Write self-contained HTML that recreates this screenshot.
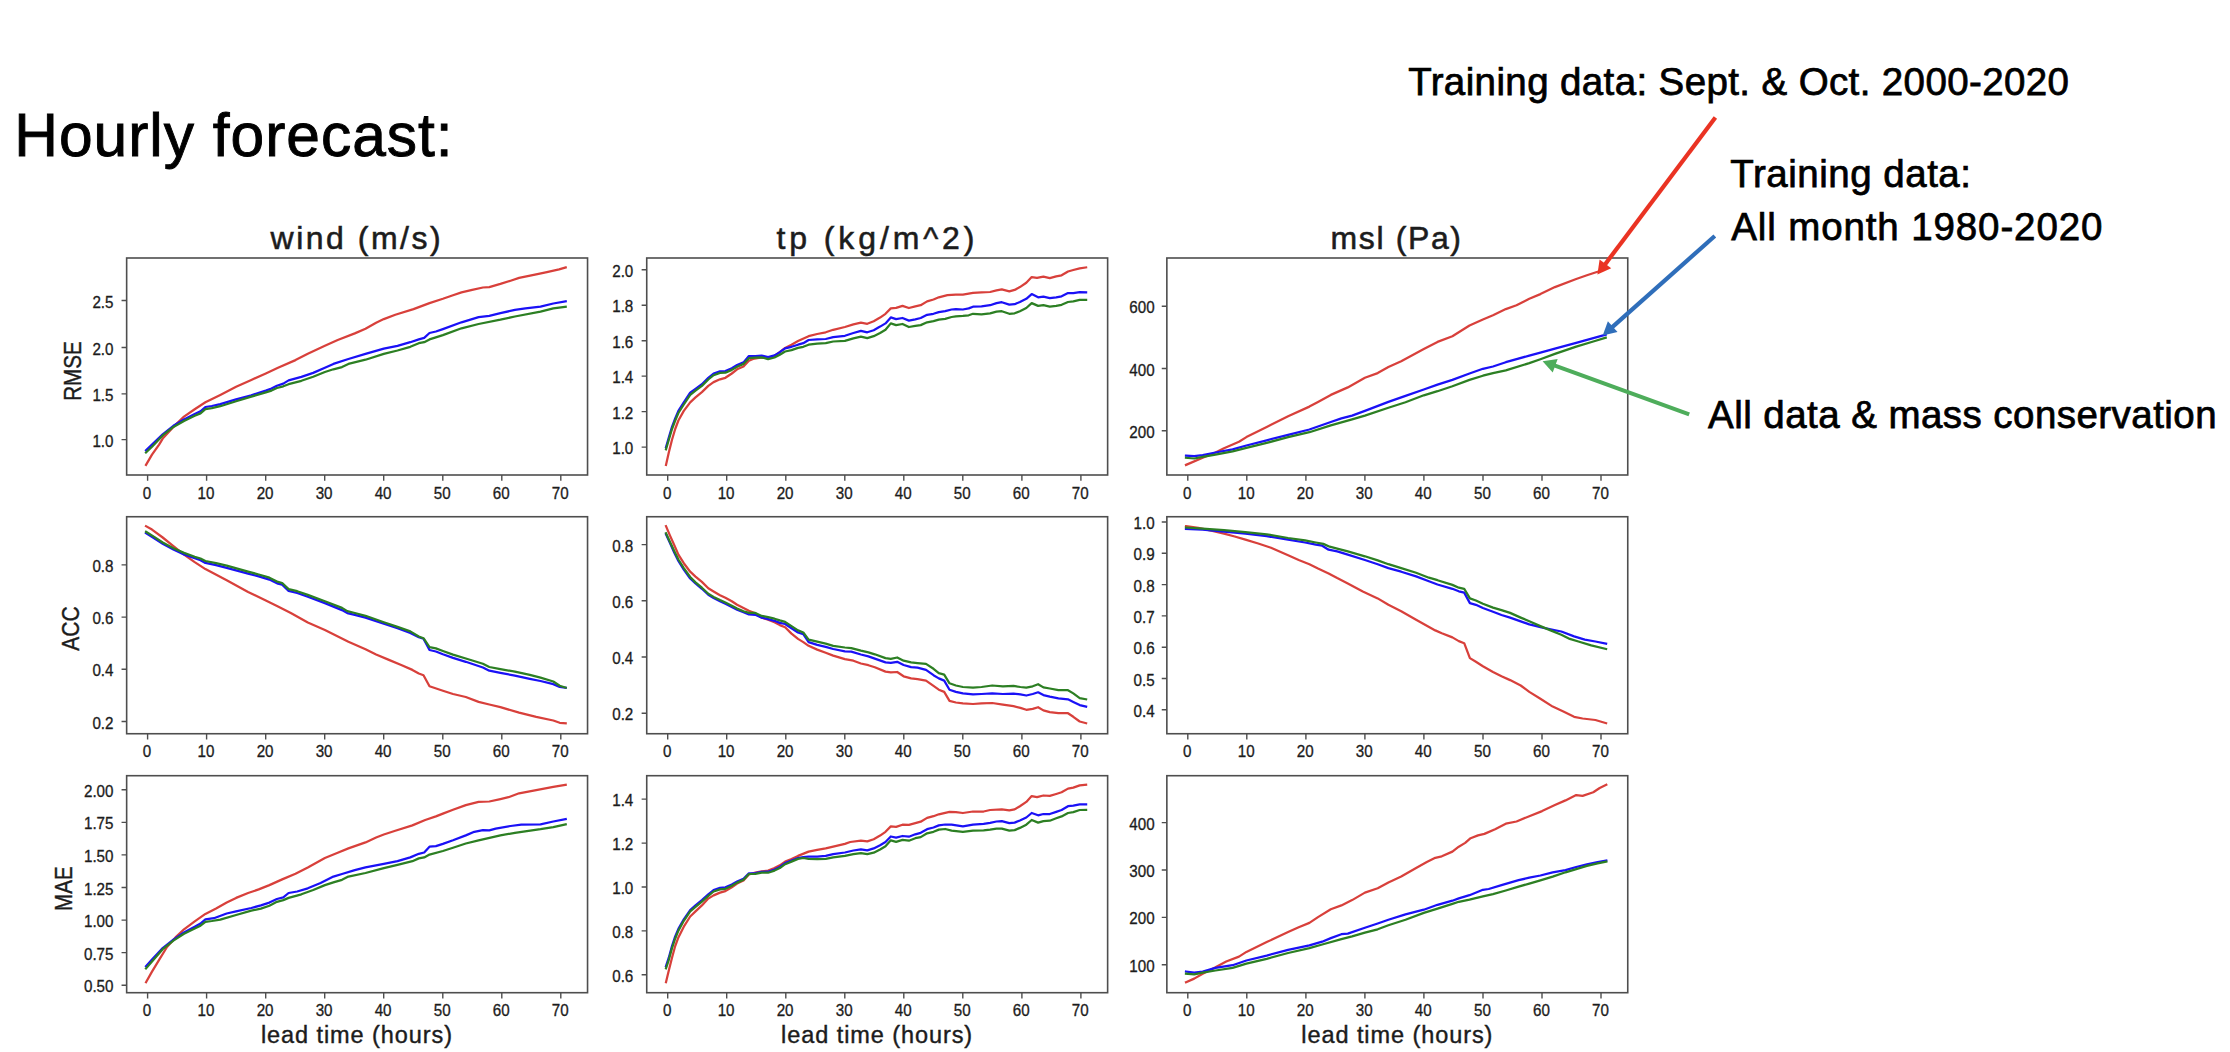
<!DOCTYPE html>
<html><head><meta charset="utf-8"><title>Hourly forecast</title>
<style>html,body{margin:0;padding:0;background:#fff;}body{width:2230px;height:1052px;overflow:hidden;font-family:"Liberation Sans",sans-serif;}svg{display:block;}</style>
</head><body>
<svg width="2230" height="1052" viewBox="0 0 2230 1052" font-family='"Liberation Sans", sans-serif'>
<rect x="0" y="0" width="2230" height="1052" fill="#ffffff"/>
<g>
<g fill="none" stroke-width="2.25" stroke-linejoin="round" stroke-linecap="square">
<polyline points="146.0,464.9 152.0,454.6 159.1,444.6 162.7,438.6 173.4,426.9 184.0,416.6 194.7,409.2 205.4,402.3 220.3,394.9 236.1,386.8 251.3,379.9 265.8,373.5 278.0,367.8 295.5,360.1 307.8,353.7 324.9,345.8 337.7,340.0 354.8,333.4 365.5,328.7 376.1,322.7 383.8,319.1 395.3,314.8 413.5,309.1 429.5,303.1 442.9,298.8 453.0,295.2 461.5,292.4 472.2,289.9 482.9,287.5 489.3,287.1 500.4,283.9 510.6,280.7 519.1,277.9 536.2,274.3 546.9,272.1 559.1,269.4 565.7,267.4" stroke="#d8403b"/>
<polyline points="146.0,450.4 152.0,444.6 162.7,434.4 173.4,425.8 184.0,419.4 194.7,414.1 200.5,411.3 205.4,407.0 211.8,406.0 220.3,404.1 236.1,399.4 251.3,395.3 265.8,390.6 271.5,388.5 276.9,385.7 283.3,383.6 288.6,380.4 301.4,376.9 313.2,372.9 324.9,367.8 333.4,363.9 348.4,359.0 365.5,353.9 383.8,348.6 397.5,345.8 410.3,342.2 418.8,339.4 424.2,337.9 429.5,333.0 435.9,331.5 442.9,329.1 461.5,322.3 478.6,317.2 489.3,315.9 500.4,313.1 514.9,309.9 525.5,308.4 540.5,306.7 553.3,303.5 565.7,301.4" stroke="#1a11f6"/>
<polyline points="146.0,452.5 152.0,446.7 162.7,435.4 173.4,426.9 184.0,420.9 194.7,415.8 200.5,413.4 205.4,409.2 211.8,408.1 220.3,406.2 236.1,401.3 251.3,396.6 265.8,392.3 271.5,390.6 276.9,388.0 283.3,386.3 288.6,384.2 301.4,380.8 313.2,376.7 324.9,372.0 333.4,369.3 342.0,367.1 348.4,363.9 365.5,359.7 383.8,353.9 397.5,350.5 410.3,346.8 418.8,343.2 424.2,342.2 429.5,339.4 442.9,335.1 461.5,328.3 478.6,324.0 500.4,319.7 514.9,316.5 540.5,311.6 553.3,308.4 565.7,306.7" stroke="#2c7f23"/>
</g>
<rect x="126.65" y="258.0" width="460.9" height="217.0" fill="none" stroke="#4e4e4e" stroke-width="1.6"/>
<path d="M147.6 474.96v5.9M206.6 474.96v5.9M265.7 474.96v5.9M324.7 474.96v5.9M383.7 474.96v5.9M442.8 474.96v5.9M501.8 474.96v5.9M560.8 474.96v5.9M126.65 300.5h-5.1M126.65 347.5h-5.1M126.65 393.9h-5.1M126.65 439.6h-5.1" stroke="#4e4e4e" stroke-width="1.4" fill="none"/>
<g font-size="15.5" fill="#1c1c1c" stroke="#1c1c1c" stroke-width="0.3" text-anchor="middle">
<text transform="translate(147.0 498.7) scale(0.98 1.1)">0</text>
<text transform="translate(206.0 498.7) scale(0.98 1.1)">10</text>
<text transform="translate(265.1 498.7) scale(0.98 1.1)">20</text>
<text transform="translate(324.1 498.7) scale(0.98 1.1)">30</text>
<text transform="translate(383.1 498.7) scale(0.98 1.1)">40</text>
<text transform="translate(442.2 498.7) scale(0.98 1.1)">50</text>
<text transform="translate(501.2 498.7) scale(0.98 1.1)">60</text>
<text transform="translate(560.2 498.7) scale(0.98 1.1)">70</text>
</g>
<g font-size="15.5" fill="#1c1c1c" stroke="#1c1c1c" stroke-width="0.3" text-anchor="end">
<text transform="translate(113.5 307.5) scale(0.98 1.1)">2.5</text>
<text transform="translate(113.5 354.5) scale(0.98 1.1)">2.0</text>
<text transform="translate(113.5 400.9) scale(0.98 1.1)">1.5</text>
<text transform="translate(113.5 446.6) scale(0.98 1.1)">1.0</text>
</g>
<g fill="none" stroke-width="2.25" stroke-linejoin="round" stroke-linecap="square">
<polyline points="666.0,464.9 668.8,452.5 672.0,439.7 675.2,429.0 678.4,420.5 683.8,410.9 690.2,402.3 695.5,397.4 701.9,392.1 708.3,385.9 713.6,382.1 720.0,379.3 725.4,377.8 731.8,373.5 737.1,369.3 743.5,366.5 748.9,360.7 753.1,359.0 761.7,357.5 768.1,358.2 774.5,356.0 779.8,352.2 785.1,347.9 791.5,344.7 798.0,341.1 808.6,336.2 817.2,334.0 825.7,332.3 833.2,329.8 844.9,327.0 853.4,324.4 860.9,322.7 867.3,323.8 873.7,321.2 880.1,317.6 885.5,313.8 890.8,308.4 896.1,307.8 902.5,305.9 908.9,308.0 915.3,306.3 920.7,305.2 927.1,301.4 933.5,299.5 938.8,297.3 947.4,295.2 955.9,294.6 962.9,294.6 973.0,292.8 981.5,292.4 990.1,292.0 996.5,290.3 1001.8,289.4 1009.3,291.4 1014.6,289.9 1019.9,287.1 1026.3,282.8 1031.7,277.1 1037.0,277.9 1043.4,276.6 1049.8,278.1 1056.2,276.4 1061.6,275.3 1068.0,271.5 1073.3,270.0 1079.7,268.3 1086.1,267.4" stroke="#d8403b"/>
<polyline points="666.0,447.2 668.8,437.6 672.0,426.9 675.2,418.4 678.4,410.9 683.8,402.3 690.2,392.7 695.5,388.9 701.9,384.2 708.3,377.8 713.6,373.5 720.0,371.4 725.4,371.0 731.8,368.2 737.1,365.0 743.5,362.4 748.9,356.0 755.3,356.0 761.7,355.6 768.1,357.1 774.5,355.4 779.8,352.2 785.1,348.3 791.5,346.8 798.0,344.7 803.3,343.2 808.6,340.0 817.2,339.4 825.7,339.0 833.2,337.2 844.9,335.8 853.4,333.0 860.9,330.8 867.3,332.3 873.7,330.2 880.1,326.6 885.5,323.4 890.8,317.4 896.1,319.1 902.5,318.0 908.9,320.6 915.3,319.3 920.7,318.0 927.1,314.8 933.5,313.8 938.8,312.1 945.2,311.2 951.6,309.5 955.9,309.1 962.9,309.5 968.7,308.4 973.0,306.7 981.5,306.3 990.1,305.2 996.5,303.1 1001.8,302.2 1009.3,304.6 1014.6,304.2 1019.9,302.0 1026.3,298.8 1031.7,294.1 1038.1,297.3 1043.4,296.7 1049.8,298.2 1056.2,297.3 1061.6,296.3 1068.0,293.1 1073.3,293.1 1079.7,292.2 1086.1,292.4" stroke="#1a11f6"/>
<polyline points="666.0,449.3 668.8,439.7 672.0,429.0 675.2,420.5 678.4,413.0 683.8,404.5 690.2,394.9 695.5,390.6 701.9,385.9 708.3,379.5 713.6,375.2 720.0,372.9 725.4,372.7 731.8,369.9 737.1,366.7 743.5,363.9 748.9,358.2 755.3,357.7 761.7,357.3 768.1,359.2 774.5,357.5 779.8,354.7 785.1,351.5 791.5,350.1 798.0,347.9 803.3,346.8 808.6,344.7 817.2,343.6 825.7,343.2 833.2,341.5 844.9,340.9 853.4,338.3 860.9,336.6 867.3,338.1 873.7,336.2 880.1,333.0 885.5,329.8 890.8,323.4 896.1,325.1 902.5,324.0 908.9,327.0 915.3,325.9 920.7,325.1 927.1,322.3 933.5,321.2 938.8,319.7 945.2,318.9 951.6,317.0 955.9,316.3 962.9,315.9 968.7,315.3 973.0,313.8 981.5,314.4 990.1,313.3 996.5,311.6 1001.8,311.2 1009.3,313.8 1014.6,313.3 1019.9,311.2 1026.3,308.0 1031.7,303.1 1038.1,305.9 1043.4,305.2 1049.8,306.7 1056.2,305.9 1061.6,304.8 1068.0,302.0 1073.3,301.4 1079.7,299.9 1086.1,299.9" stroke="#2c7f23"/>
</g>
<rect x="646.73" y="258.0" width="460.9" height="217.0" fill="none" stroke="#4e4e4e" stroke-width="1.6"/>
<path d="M667.7 474.96v5.9M726.7 474.96v5.9M785.8 474.96v5.9M844.8 474.96v5.9M903.8 474.96v5.9M962.8 474.96v5.9M1021.9 474.96v5.9M1080.9 474.96v5.9M646.73 269.7h-5.1M646.73 305.2h-5.1M646.73 340.7h-5.1M646.73 376.1h-5.1M646.73 411.6h-5.1M646.73 447.1h-5.1" stroke="#4e4e4e" stroke-width="1.4" fill="none"/>
<g font-size="15.5" fill="#1c1c1c" stroke="#1c1c1c" stroke-width="0.3" text-anchor="middle">
<text transform="translate(667.1 498.7) scale(0.98 1.1)">0</text>
<text transform="translate(726.1 498.7) scale(0.98 1.1)">10</text>
<text transform="translate(785.1 498.7) scale(0.98 1.1)">20</text>
<text transform="translate(844.2 498.7) scale(0.98 1.1)">30</text>
<text transform="translate(903.2 498.7) scale(0.98 1.1)">40</text>
<text transform="translate(962.2 498.7) scale(0.98 1.1)">50</text>
<text transform="translate(1021.3 498.7) scale(0.98 1.1)">60</text>
<text transform="translate(1080.3 498.7) scale(0.98 1.1)">70</text>
</g>
<g font-size="15.5" fill="#1c1c1c" stroke="#1c1c1c" stroke-width="0.3" text-anchor="end">
<text transform="translate(633.3 276.7) scale(0.98 1.1)">2.0</text>
<text transform="translate(633.3 312.2) scale(0.98 1.1)">1.8</text>
<text transform="translate(633.3 347.7) scale(0.98 1.1)">1.6</text>
<text transform="translate(633.3 383.1) scale(0.98 1.1)">1.4</text>
<text transform="translate(633.3 418.6) scale(0.98 1.1)">1.2</text>
<text transform="translate(633.3 454.1) scale(0.98 1.1)">1.0</text>
</g>
<g fill="none" stroke-width="2.25" stroke-linejoin="round" stroke-linecap="square">
<polyline points="1186.0,464.9 1202.7,457.8 1215.5,452.5 1224.0,448.2 1239.0,441.8 1246.4,437.1 1266.7,426.9 1288.1,416.2 1309.4,406.6 1318.0,401.9 1330.8,394.9 1347.8,387.4 1364.9,377.8 1377.7,373.1 1388.4,367.1 1401.2,361.2 1423.8,349.0 1437.5,341.9 1452.4,336.2 1469.5,325.5 1482.9,319.5 1493.0,315.3 1505.8,309.1 1516.5,305.2 1529.3,298.8 1540.4,294.1 1554.9,287.1 1576.2,279.0 1586.9,275.3 1597.6,271.7 1606.3,268.1" stroke="#d8403b"/>
<polyline points="1186.0,455.7 1194.2,456.1 1202.7,455.1 1215.5,452.5 1232.6,449.3 1246.4,445.5 1266.7,440.3 1288.1,434.8 1309.4,429.5 1330.8,422.0 1341.4,418.4 1352.1,415.6 1364.9,410.9 1388.4,401.9 1405.5,395.9 1423.8,389.5 1437.5,384.6 1452.4,379.9 1469.5,373.5 1482.9,368.8 1493.0,366.5 1505.8,362.2 1529.3,355.6 1540.4,352.6 1554.9,348.6 1576.2,342.8 1593.3,338.1 1605.7,334.7" stroke="#1a11f6"/>
<polyline points="1186.0,457.8 1194.2,458.5 1202.7,456.8 1215.5,454.6 1232.6,451.4 1246.4,447.8 1266.7,442.9 1288.1,437.1 1309.4,432.2 1330.8,425.4 1352.1,419.4 1364.9,415.6 1388.4,407.7 1405.5,402.3 1423.8,395.3 1437.5,391.2 1452.4,386.3 1469.5,379.9 1482.9,375.7 1493.0,373.1 1505.8,370.3 1529.3,363.1 1540.4,359.2 1554.9,353.9 1576.2,346.6 1593.3,341.5 1605.7,337.7" stroke="#2c7f23"/>
</g>
<rect x="1166.85" y="258.0" width="460.9" height="217.0" fill="none" stroke="#4e4e4e" stroke-width="1.6"/>
<path d="M1187.8 474.96v5.9M1246.8 474.96v5.9M1305.9 474.96v5.9M1364.9 474.96v5.9M1423.9 474.96v5.9M1483.0 474.96v5.9M1542.0 474.96v5.9M1601.0 474.96v5.9M1166.85 306.3h-5.1M1166.85 368.5h-5.1M1166.85 430.7h-5.1" stroke="#4e4e4e" stroke-width="1.4" fill="none"/>
<g font-size="15.5" fill="#1c1c1c" stroke="#1c1c1c" stroke-width="0.3" text-anchor="middle">
<text transform="translate(1187.2 498.7) scale(0.98 1.1)">0</text>
<text transform="translate(1246.2 498.7) scale(0.98 1.1)">10</text>
<text transform="translate(1305.3 498.7) scale(0.98 1.1)">20</text>
<text transform="translate(1364.3 498.7) scale(0.98 1.1)">30</text>
<text transform="translate(1423.3 498.7) scale(0.98 1.1)">40</text>
<text transform="translate(1482.4 498.7) scale(0.98 1.1)">50</text>
<text transform="translate(1541.4 498.7) scale(0.98 1.1)">60</text>
<text transform="translate(1600.4 498.7) scale(0.98 1.1)">70</text>
</g>
<g font-size="15.5" fill="#1c1c1c" stroke="#1c1c1c" stroke-width="0.3" text-anchor="end">
<text transform="translate(1154.6 313.3) scale(0.98 1.1)">600</text>
<text transform="translate(1154.6 375.5) scale(0.98 1.1)">400</text>
<text transform="translate(1154.6 437.7) scale(0.98 1.1)">200</text>
</g>
<g fill="none" stroke-width="2.25" stroke-linejoin="round" stroke-linecap="square">
<polyline points="146.0,526.2 152.0,529.6 162.7,537.5 173.4,546.1 184.0,554.6 194.7,562.1 205.4,569.1 226.7,580.2 248.1,592.0 265.8,600.5 278.0,606.5 290.8,612.9 307.8,622.5 324.9,630.0 348.4,641.7 365.5,649.2 376.1,654.5 388.9,659.9 401.8,665.2 412.4,669.9 418.8,673.5 423.5,675.2 429.5,686.3 442.9,690.8 453.0,694.0 465.8,697.0 478.6,701.9 489.3,704.5 500.4,707.2 519.1,712.6 536.2,716.8 553.3,720.5 559.7,722.8 565.7,723.2" stroke="#d8403b"/>
<polyline points="146.0,533.1 154.2,538.4 162.7,543.7 173.4,549.5 184.0,554.4 194.7,558.3 200.5,560.2 205.4,562.9 216.1,565.1 226.7,567.9 248.1,573.6 258.7,576.4 269.4,579.6 278.0,583.7 282.2,584.7 288.6,590.9 297.2,593.0 307.8,596.7 324.9,603.1 342.0,610.1 347.3,613.1 354.8,614.8 365.5,617.6 383.8,623.8 397.5,628.3 410.3,633.0 418.8,637.2 423.5,638.7 429.5,650.0 435.9,651.5 442.9,654.3 453.0,657.9 465.8,661.8 482.9,667.5 489.3,670.7 500.4,672.9 514.9,675.6 529.8,678.8 540.5,681.0 553.3,684.2 559.7,687.0 565.7,687.8" stroke="#1a11f6"/>
<polyline points="146.0,531.8 154.2,536.9 162.7,542.5 173.4,548.2 184.0,552.9 194.7,556.8 200.5,558.5 205.4,561.0 216.1,563.2 226.7,565.7 248.1,571.7 258.7,574.5 269.4,577.7 278.0,581.9 282.2,583.0 288.6,589.1 297.2,591.2 307.8,594.9 324.9,601.3 342.0,607.9 347.3,611.1 354.8,613.0 365.5,615.8 383.8,622.2 397.5,626.9 410.3,631.4 418.8,636.5 423.5,638.2 429.5,647.2 435.9,648.4 442.9,651.0 453.0,654.6 465.8,658.5 482.9,663.8 489.3,667.0 500.4,669.1 514.9,671.7 529.8,674.9 540.5,677.7 553.3,681.5 559.7,685.8 565.7,687.7" stroke="#2c7f23"/>
</g>
<rect x="126.65" y="516.73" width="460.9" height="217.0" fill="none" stroke="#4e4e4e" stroke-width="1.6"/>
<path d="M147.6 733.72v5.9M206.6 733.72v5.9M265.7 733.72v5.9M324.7 733.72v5.9M383.7 733.72v5.9M442.8 733.72v5.9M501.8 733.72v5.9M560.8 733.72v5.9M126.65 564.9h-5.1M126.65 617.1h-5.1M126.65 669.3h-5.1M126.65 721.5h-5.1" stroke="#4e4e4e" stroke-width="1.4" fill="none"/>
<g font-size="15.5" fill="#1c1c1c" stroke="#1c1c1c" stroke-width="0.3" text-anchor="middle">
<text transform="translate(147.0 757.4) scale(0.98 1.1)">0</text>
<text transform="translate(206.0 757.4) scale(0.98 1.1)">10</text>
<text transform="translate(265.1 757.4) scale(0.98 1.1)">20</text>
<text transform="translate(324.1 757.4) scale(0.98 1.1)">30</text>
<text transform="translate(383.1 757.4) scale(0.98 1.1)">40</text>
<text transform="translate(442.2 757.4) scale(0.98 1.1)">50</text>
<text transform="translate(501.2 757.4) scale(0.98 1.1)">60</text>
<text transform="translate(560.2 757.4) scale(0.98 1.1)">70</text>
</g>
<g font-size="15.5" fill="#1c1c1c" stroke="#1c1c1c" stroke-width="0.3" text-anchor="end">
<text transform="translate(113.5 571.9) scale(0.98 1.1)">0.8</text>
<text transform="translate(113.5 624.1) scale(0.98 1.1)">0.6</text>
<text transform="translate(113.5 676.3) scale(0.98 1.1)">0.4</text>
<text transform="translate(113.5 728.5) scale(0.98 1.1)">0.2</text>
</g>
<g fill="none" stroke-width="2.25" stroke-linejoin="round" stroke-linecap="square">
<polyline points="666.0,526.2 669.9,535.4 674.2,545.0 678.4,554.6 683.8,563.2 690.2,571.7 695.5,576.6 701.9,581.9 708.3,588.3 713.6,591.5 720.0,595.2 725.4,597.7 731.8,601.2 737.1,604.8 743.5,608.0 748.9,610.8 755.3,613.3 761.7,617.6 768.1,619.7 774.5,622.3 779.8,625.1 785.1,627.2 791.5,633.6 798.0,638.9 803.3,642.1 808.6,645.8 817.2,649.6 825.7,652.8 833.2,655.6 844.9,659.2 853.4,660.7 860.9,663.5 868.4,665.2 874.8,667.3 885.5,671.6 890.8,672.4 897.2,672.0 903.6,676.3 911.1,678.4 917.5,679.1 926.0,680.6 933.5,685.9 938.8,689.7 944.2,691.9 949.5,700.8 955.9,702.5 962.9,703.4 973.0,704.0 981.5,703.4 992.2,703.0 1002.9,704.7 1013.5,706.2 1020.4,707.9 1026.3,709.8 1032.7,708.9 1038.1,707.2 1043.4,710.4 1049.8,712.1 1058.4,713.2 1068.0,713.2 1073.3,716.8 1079.7,721.5 1086.1,723.2" stroke="#d8403b"/>
<polyline points="666.0,534.3 669.9,542.9 674.2,552.5 678.4,561.0 683.8,569.6 690.2,578.5 695.5,583.4 701.9,588.8 708.3,594.8 713.6,598.0 720.0,601.2 725.4,603.7 731.8,606.9 737.1,609.7 743.5,612.3 748.9,614.4 755.3,614.8 761.7,617.6 768.1,619.1 774.5,620.8 779.8,622.9 785.1,624.0 791.5,628.3 798.0,632.5 803.3,634.2 808.6,642.1 817.2,644.9 825.7,646.8 833.2,649.0 844.9,651.3 851.3,651.7 860.9,654.5 868.4,656.4 874.8,658.6 885.5,662.4 890.8,662.8 897.2,661.8 903.6,665.0 911.1,667.1 917.5,667.7 926.0,669.9 933.5,675.2 938.8,678.4 944.2,680.6 949.5,689.7 955.9,691.9 962.9,693.4 973.0,694.4 981.5,694.0 992.2,693.4 1002.9,694.0 1013.5,693.6 1020.4,694.4 1026.3,695.5 1032.7,694.0 1038.1,692.3 1043.4,695.1 1049.8,696.6 1058.4,698.3 1068.0,699.3 1073.3,701.9 1079.7,705.1 1086.1,706.6" stroke="#1a11f6"/>
<polyline points="666.0,533.3 669.9,541.8 674.2,551.0 678.4,559.5 683.8,568.1 690.2,577.0 695.5,582.4 701.9,587.7 708.3,593.7 713.6,596.9 720.0,600.1 725.4,602.6 731.8,605.8 737.1,608.6 743.5,611.2 748.9,612.9 755.3,612.9 761.7,615.9 768.1,617.2 774.5,618.7 779.8,620.4 785.1,621.9 791.5,626.1 798.0,630.4 803.3,632.5 808.6,639.6 817.2,641.7 825.7,643.6 833.2,645.8 844.9,647.5 851.3,648.1 860.9,650.7 868.4,652.4 874.8,654.3 885.5,658.1 890.8,658.8 897.2,657.5 903.6,660.7 911.1,662.4 917.5,663.1 926.0,663.9 933.5,668.8 938.8,673.1 944.2,674.6 949.5,683.3 955.9,685.5 962.9,687.0 973.0,687.6 981.5,687.0 992.2,685.5 1002.9,686.3 1013.5,685.9 1020.4,687.0 1026.3,687.6 1032.7,686.3 1038.1,684.2 1043.4,687.4 1049.8,688.5 1058.4,690.2 1068.0,690.2 1073.3,693.4 1079.7,698.1 1086.1,699.3" stroke="#2c7f23"/>
</g>
<rect x="646.73" y="516.73" width="460.9" height="217.0" fill="none" stroke="#4e4e4e" stroke-width="1.6"/>
<path d="M667.7 733.72v5.9M726.7 733.72v5.9M785.8 733.72v5.9M844.8 733.72v5.9M903.8 733.72v5.9M962.8 733.72v5.9M1021.9 733.72v5.9M1080.9 733.72v5.9M646.73 544.6h-5.1M646.73 600.8h-5.1M646.73 657.0h-5.1M646.73 713.2h-5.1" stroke="#4e4e4e" stroke-width="1.4" fill="none"/>
<g font-size="15.5" fill="#1c1c1c" stroke="#1c1c1c" stroke-width="0.3" text-anchor="middle">
<text transform="translate(667.1 757.4) scale(0.98 1.1)">0</text>
<text transform="translate(726.1 757.4) scale(0.98 1.1)">10</text>
<text transform="translate(785.1 757.4) scale(0.98 1.1)">20</text>
<text transform="translate(844.2 757.4) scale(0.98 1.1)">30</text>
<text transform="translate(903.2 757.4) scale(0.98 1.1)">40</text>
<text transform="translate(962.2 757.4) scale(0.98 1.1)">50</text>
<text transform="translate(1021.3 757.4) scale(0.98 1.1)">60</text>
<text transform="translate(1080.3 757.4) scale(0.98 1.1)">70</text>
</g>
<g font-size="15.5" fill="#1c1c1c" stroke="#1c1c1c" stroke-width="0.3" text-anchor="end">
<text transform="translate(633.3 551.6) scale(0.98 1.1)">0.8</text>
<text transform="translate(633.3 607.8) scale(0.98 1.1)">0.6</text>
<text transform="translate(633.3 664.0) scale(0.98 1.1)">0.4</text>
<text transform="translate(633.3 720.2) scale(0.98 1.1)">0.2</text>
</g>
<g fill="none" stroke-width="2.25" stroke-linejoin="round" stroke-linecap="square">
<polyline points="1186.0,526.2 1198.4,527.9 1213.4,531.1 1224.0,533.7 1234.7,536.5 1245.4,539.7 1258.2,543.5 1271.0,547.8 1288.1,555.3 1298.7,560.0 1309.4,564.2 1318.0,568.5 1328.6,573.4 1337.2,578.1 1347.8,583.4 1362.8,591.5 1377.7,598.4 1388.4,604.8 1401.2,611.2 1416.1,619.7 1426.8,625.7 1435.3,630.4 1441.8,633.2 1452.4,637.4 1458.8,641.1 1464.2,643.2 1469.9,658.1 1475.9,661.8 1482.9,666.3 1493.0,672.0 1501.5,676.3 1510.1,680.1 1520.7,685.5 1529.3,691.9 1540.4,698.7 1552.7,706.6 1563.4,711.5 1574.1,716.8 1582.6,718.5 1595.4,720.0 1606.1,723.2" stroke="#d8403b"/>
<polyline points="1186.0,529.0 1202.7,529.6 1224.0,531.6 1245.4,533.7 1266.7,536.1 1288.1,539.7 1305.1,542.5 1315.8,544.6 1322.2,545.7 1328.6,549.7 1337.2,551.4 1347.8,554.6 1364.9,560.0 1377.7,564.2 1388.4,568.1 1401.2,571.7 1416.1,576.4 1428.9,581.3 1437.5,584.5 1452.4,588.8 1458.8,591.3 1464.2,592.6 1469.9,603.1 1475.9,604.8 1482.9,608.0 1493.0,611.8 1501.5,615.0 1510.1,617.6 1520.7,621.4 1529.3,624.4 1540.4,627.2 1550.6,629.3 1561.3,631.5 1574.1,636.4 1584.8,639.6 1595.4,641.5 1606.1,643.6" stroke="#1a11f6"/>
<polyline points="1186.0,527.5 1202.7,528.6 1224.0,530.1 1245.4,532.2 1266.7,534.3 1288.1,538.0 1305.1,540.3 1315.8,542.5 1323.3,543.9 1329.7,546.7 1337.2,548.6 1347.8,551.4 1364.9,556.3 1377.7,560.4 1388.4,564.2 1401.2,568.1 1416.1,572.8 1428.9,577.7 1437.5,580.2 1452.4,584.9 1458.8,587.7 1464.2,588.8 1469.9,598.4 1475.9,600.5 1482.9,603.7 1493.0,607.6 1501.5,610.1 1510.1,612.9 1520.7,617.6 1529.3,621.2 1540.4,626.1 1550.6,630.4 1561.3,634.7 1569.8,638.9 1578.4,641.5 1591.2,645.3 1606.1,649.0" stroke="#2c7f23"/>
</g>
<rect x="1166.85" y="516.73" width="460.9" height="217.0" fill="none" stroke="#4e4e4e" stroke-width="1.6"/>
<path d="M1187.8 733.72v5.9M1246.8 733.72v5.9M1305.9 733.72v5.9M1364.9 733.72v5.9M1423.9 733.72v5.9M1483.0 733.72v5.9M1542.0 733.72v5.9M1601.0 733.72v5.9M1166.85 522.0h-5.1M1166.85 553.3h-5.1M1166.85 584.6h-5.1M1166.85 615.9h-5.1M1166.85 647.2h-5.1M1166.85 678.5h-5.1M1166.85 709.8h-5.1" stroke="#4e4e4e" stroke-width="1.4" fill="none"/>
<g font-size="15.5" fill="#1c1c1c" stroke="#1c1c1c" stroke-width="0.3" text-anchor="middle">
<text transform="translate(1187.2 757.4) scale(0.98 1.1)">0</text>
<text transform="translate(1246.2 757.4) scale(0.98 1.1)">10</text>
<text transform="translate(1305.3 757.4) scale(0.98 1.1)">20</text>
<text transform="translate(1364.3 757.4) scale(0.98 1.1)">30</text>
<text transform="translate(1423.3 757.4) scale(0.98 1.1)">40</text>
<text transform="translate(1482.4 757.4) scale(0.98 1.1)">50</text>
<text transform="translate(1541.4 757.4) scale(0.98 1.1)">60</text>
<text transform="translate(1600.4 757.4) scale(0.98 1.1)">70</text>
</g>
<g font-size="15.5" fill="#1c1c1c" stroke="#1c1c1c" stroke-width="0.3" text-anchor="end">
<text transform="translate(1154.6 529.0) scale(0.98 1.1)">1.0</text>
<text transform="translate(1154.6 560.3) scale(0.98 1.1)">0.9</text>
<text transform="translate(1154.6 591.6) scale(0.98 1.1)">0.8</text>
<text transform="translate(1154.6 622.9) scale(0.98 1.1)">0.7</text>
<text transform="translate(1154.6 654.2) scale(0.98 1.1)">0.6</text>
<text transform="translate(1154.6 685.5) scale(0.98 1.1)">0.5</text>
<text transform="translate(1154.6 716.8) scale(0.98 1.1)">0.4</text>
</g>
<g fill="none" stroke-width="2.25" stroke-linejoin="round" stroke-linecap="square">
<polyline points="146.0,982.2 152.0,971.6 159.1,959.8 167.0,947.0 175.5,937.4 184.0,929.3 194.7,921.4 205.4,913.9 216.1,908.6 226.7,902.6 236.1,897.9 248.1,893.0 258.7,889.4 269.4,885.1 282.2,879.4 295.5,873.8 307.8,867.4 324.9,858.0 337.7,852.7 348.4,848.4 365.5,842.4 376.1,837.5 383.8,834.5 395.3,830.7 412.4,825.4 425.2,820.0 435.9,816.4 442.9,813.6 453.0,809.8 465.8,805.1 478.6,801.9 489.3,801.5 500.4,799.1 508.5,797.2 519.1,793.3 536.2,790.1 553.3,786.9 565.7,784.8" stroke="#d8403b"/>
<polyline points="146.0,966.2 152.0,959.4 162.7,948.1 173.4,939.6 184.0,932.5 194.7,926.7 200.5,923.5 205.4,919.3 213.9,918.2 226.7,913.5 236.1,911.4 251.3,908.0 260.9,905.4 269.4,902.6 276.9,899.0 283.3,897.3 288.6,893.0 297.2,891.5 307.8,888.3 320.6,883.0 333.4,876.6 342.0,874.0 354.8,870.2 365.5,867.4 383.8,863.8 397.5,861.2 410.3,857.4 418.8,853.8 424.2,852.5 429.5,846.7 435.9,846.1 442.9,843.9 453.0,840.3 465.8,835.4 474.3,831.8 482.9,830.1 489.3,830.3 495.7,828.6 510.6,826.0 521.3,824.7 540.5,824.3 553.3,821.5 565.7,819.0" stroke="#1a11f6"/>
<polyline points="146.0,968.4 152.0,961.5 162.7,949.2 173.4,940.6 184.0,933.8 194.7,928.5 200.5,925.7 205.4,921.8 211.8,921.0 220.3,919.7 236.1,915.0 251.3,910.7 260.9,908.6 269.4,905.8 276.9,901.8 283.3,900.1 288.6,897.9 301.4,894.3 313.2,890.0 324.9,885.1 333.4,882.4 342.0,879.8 348.4,876.6 365.5,873.0 383.8,868.1 397.5,864.8 412.4,861.2 418.8,858.4 424.2,857.4 429.5,854.6 442.9,851.0 453.0,847.8 465.8,843.5 478.6,840.3 500.4,835.4 514.9,832.8 540.5,829.2 553.3,827.1 565.7,824.3" stroke="#2c7f23"/>
</g>
<rect x="126.65" y="775.7" width="460.9" height="217.0" fill="none" stroke="#4e4e4e" stroke-width="1.6"/>
<path d="M147.6 992.7v5.9M206.6 992.7v5.9M265.7 992.7v5.9M324.7 992.7v5.9M383.7 992.7v5.9M442.8 992.7v5.9M501.8 992.7v5.9M560.8 992.7v5.9M126.65 789.8h-5.1M126.65 822.4h-5.1M126.65 854.9h-5.1M126.65 887.5h-5.1M126.65 920.1h-5.1M126.65 952.6h-5.1M126.65 985.2h-5.1" stroke="#4e4e4e" stroke-width="1.4" fill="none"/>
<g font-size="15.5" fill="#1c1c1c" stroke="#1c1c1c" stroke-width="0.3" text-anchor="middle">
<text transform="translate(147.0 1016.4) scale(0.98 1.1)">0</text>
<text transform="translate(206.0 1016.4) scale(0.98 1.1)">10</text>
<text transform="translate(265.1 1016.4) scale(0.98 1.1)">20</text>
<text transform="translate(324.1 1016.4) scale(0.98 1.1)">30</text>
<text transform="translate(383.1 1016.4) scale(0.98 1.1)">40</text>
<text transform="translate(442.2 1016.4) scale(0.98 1.1)">50</text>
<text transform="translate(501.2 1016.4) scale(0.98 1.1)">60</text>
<text transform="translate(560.2 1016.4) scale(0.98 1.1)">70</text>
</g>
<g font-size="15.5" fill="#1c1c1c" stroke="#1c1c1c" stroke-width="0.3" text-anchor="end">
<text transform="translate(113.5 796.8) scale(0.98 1.1)">2.00</text>
<text transform="translate(113.5 829.4) scale(0.98 1.1)">1.75</text>
<text transform="translate(113.5 861.9) scale(0.98 1.1)">1.50</text>
<text transform="translate(113.5 894.5) scale(0.98 1.1)">1.25</text>
<text transform="translate(113.5 927.1) scale(0.98 1.1)">1.00</text>
<text transform="translate(113.5 959.6) scale(0.98 1.1)">0.75</text>
<text transform="translate(113.5 992.2) scale(0.98 1.1)">0.50</text>
</g>
<g fill="none" stroke-width="2.25" stroke-linejoin="round" stroke-linecap="square">
<polyline points="666.0,982.2 668.8,970.5 672.0,957.7 675.2,946.0 678.4,937.4 683.8,926.7 690.2,916.5 695.5,911.4 701.9,905.4 708.3,898.6 713.6,895.4 720.0,892.6 725.4,891.1 731.8,887.3 737.1,883.6 743.5,880.4 748.9,874.5 755.3,872.7 761.7,871.3 768.1,870.6 774.5,868.1 779.8,865.3 785.1,861.6 791.5,859.1 798.0,855.9 808.6,851.6 817.2,849.9 825.7,848.4 833.2,846.7 844.9,843.9 850.2,842.0 860.9,840.7 867.3,841.4 873.7,839.2 880.1,835.6 885.5,831.8 890.8,826.4 896.1,826.9 902.5,824.7 908.9,824.9 915.3,823.2 920.7,821.7 927.1,817.9 933.5,816.2 938.8,814.3 949.5,811.9 955.9,812.1 962.9,813.0 973.0,811.5 983.6,811.5 990.1,810.0 1001.8,809.4 1009.3,810.4 1014.6,809.4 1019.9,806.2 1026.3,801.9 1031.7,796.1 1037.0,797.2 1043.4,795.5 1049.8,795.9 1056.2,794.0 1061.6,792.3 1068.0,788.6 1073.3,787.6 1079.7,785.4 1086.1,784.8" stroke="#d8403b"/>
<polyline points="666.0,966.2 668.8,957.7 672.0,946.0 675.2,936.4 678.4,928.9 683.8,919.3 690.2,910.1 695.5,905.4 701.9,900.1 708.3,894.3 713.6,890.0 720.0,887.9 725.4,887.3 731.8,884.5 737.1,881.5 743.5,878.7 748.9,873.4 755.3,873.0 761.7,871.9 768.1,871.7 774.5,869.5 779.8,867.0 785.1,863.1 791.5,860.6 798.0,858.0 803.3,857.0 808.6,856.7 817.2,856.7 825.7,855.9 833.2,854.2 844.9,852.5 853.4,850.5 860.9,849.3 867.3,850.3 873.7,848.4 880.1,845.2 885.5,842.0 890.8,836.5 896.1,837.7 902.5,836.0 908.9,836.7 915.3,834.3 920.7,832.8 927.1,829.2 933.5,827.5 938.8,825.4 945.2,824.5 951.6,824.7 962.9,826.4 973.0,824.7 983.6,823.9 990.1,822.8 996.5,821.5 1001.8,821.1 1009.3,823.2 1014.6,822.6 1019.9,820.5 1026.3,817.5 1031.7,813.0 1038.1,815.3 1043.4,814.0 1049.8,814.0 1056.2,811.9 1061.6,810.0 1068.0,806.2 1073.3,805.7 1079.7,804.4 1086.1,804.4" stroke="#1a11f6"/>
<polyline points="666.0,968.4 668.8,959.8 672.0,948.1 675.2,938.5 678.4,930.6 683.8,920.8 690.2,911.4 695.5,906.9 701.9,901.6 708.3,895.8 713.6,891.5 720.0,889.4 725.4,888.8 731.8,885.8 737.1,882.6 743.5,879.8 748.9,874.0 755.3,873.8 761.7,872.7 768.1,872.7 774.5,870.6 779.8,868.1 785.1,864.2 791.5,861.6 798.0,858.9 803.3,858.0 808.6,858.9 817.2,859.1 825.7,858.9 833.2,857.4 844.9,855.9 853.4,854.2 860.9,853.1 867.3,854.2 873.7,852.7 880.1,849.5 885.5,846.3 890.8,840.3 896.1,841.8 902.5,839.9 908.9,840.7 915.3,838.2 920.7,837.1 927.1,833.3 933.5,831.8 938.8,829.6 945.2,829.0 951.6,830.7 962.9,831.8 973.0,830.7 983.6,830.3 990.1,829.6 996.5,828.6 1001.8,828.6 1009.3,830.7 1014.6,830.1 1019.9,827.9 1026.3,824.7 1031.7,820.0 1038.1,822.6 1043.4,821.1 1049.8,820.7 1056.2,818.3 1061.6,816.4 1068.0,813.0 1073.3,812.1 1079.7,810.0 1086.1,809.8" stroke="#2c7f23"/>
</g>
<rect x="646.73" y="775.7" width="460.9" height="217.0" fill="none" stroke="#4e4e4e" stroke-width="1.6"/>
<path d="M667.7 992.7v5.9M726.7 992.7v5.9M785.8 992.7v5.9M844.8 992.7v5.9M903.8 992.7v5.9M962.8 992.7v5.9M1021.9 992.7v5.9M1080.9 992.7v5.9M646.73 799.1h-5.1M646.73 843.1h-5.1M646.73 887.0h-5.1M646.73 930.9h-5.1M646.73 974.8h-5.1" stroke="#4e4e4e" stroke-width="1.4" fill="none"/>
<g font-size="15.5" fill="#1c1c1c" stroke="#1c1c1c" stroke-width="0.3" text-anchor="middle">
<text transform="translate(667.1 1016.4) scale(0.98 1.1)">0</text>
<text transform="translate(726.1 1016.4) scale(0.98 1.1)">10</text>
<text transform="translate(785.1 1016.4) scale(0.98 1.1)">20</text>
<text transform="translate(844.2 1016.4) scale(0.98 1.1)">30</text>
<text transform="translate(903.2 1016.4) scale(0.98 1.1)">40</text>
<text transform="translate(962.2 1016.4) scale(0.98 1.1)">50</text>
<text transform="translate(1021.3 1016.4) scale(0.98 1.1)">60</text>
<text transform="translate(1080.3 1016.4) scale(0.98 1.1)">70</text>
</g>
<g font-size="15.5" fill="#1c1c1c" stroke="#1c1c1c" stroke-width="0.3" text-anchor="end">
<text transform="translate(633.3 806.1) scale(0.98 1.1)">1.4</text>
<text transform="translate(633.3 850.1) scale(0.98 1.1)">1.2</text>
<text transform="translate(633.3 894.0) scale(0.98 1.1)">1.0</text>
<text transform="translate(633.3 937.9) scale(0.98 1.1)">0.8</text>
<text transform="translate(633.3 981.8) scale(0.98 1.1)">0.6</text>
</g>
<g fill="none" stroke-width="2.25" stroke-linejoin="round" stroke-linecap="square">
<polyline points="1186.0,982.2 1194.2,978.6 1202.7,973.7 1215.5,967.3 1226.2,961.5 1239.0,956.6 1246.4,951.9 1266.7,942.1 1288.1,932.1 1298.7,927.2 1309.4,922.9 1318.0,917.1 1330.8,909.2 1341.4,905.4 1352.1,900.1 1364.9,892.6 1377.7,888.3 1388.4,882.4 1401.2,876.6 1416.1,868.1 1426.8,862.1 1435.3,857.8 1441.8,856.3 1452.4,851.6 1458.8,846.7 1465.2,842.9 1470.6,838.2 1478.0,835.4 1484.4,833.9 1495.1,829.2 1505.8,823.7 1516.5,821.5 1529.3,816.2 1542.1,811.1 1554.9,805.1 1565.5,800.4 1576.2,795.1 1582.6,795.9 1593.3,792.3 1599.7,788.0 1606.3,784.8" stroke="#d8403b"/>
<polyline points="1186.0,971.6 1194.2,972.6 1202.7,971.6 1215.5,967.9 1232.6,965.2 1246.4,960.5 1266.7,955.6 1288.1,949.8 1309.4,945.3 1322.2,941.7 1330.8,938.1 1341.4,934.2 1347.8,933.6 1364.9,927.8 1377.7,923.5 1388.4,919.7 1405.5,914.4 1423.8,909.7 1437.5,904.8 1452.4,900.7 1458.8,898.4 1469.5,895.2 1482.9,889.8 1488.7,889.0 1501.5,885.1 1518.6,880.2 1529.3,877.7 1540.4,875.5 1552.7,872.3 1565.5,870.2 1576.2,867.0 1586.9,864.4 1597.6,862.1 1606.3,860.6" stroke="#1a11f6"/>
<polyline points="1186.0,973.7 1194.2,974.3 1202.7,972.6 1215.5,970.5 1232.6,967.9 1246.4,963.7 1266.7,958.8 1288.1,953.0 1309.4,948.1 1322.2,944.5 1341.4,939.1 1352.1,936.4 1364.9,932.7 1377.7,929.3 1388.4,925.3 1405.5,919.7 1423.8,912.9 1437.5,908.6 1452.4,903.9 1458.8,901.8 1469.5,899.6 1482.9,896.4 1493.0,894.1 1505.8,890.5 1518.6,886.6 1529.3,883.6 1540.4,880.4 1552.7,876.6 1565.5,872.3 1576.2,869.1 1586.9,865.9 1597.6,863.4 1606.3,861.6" stroke="#2c7f23"/>
</g>
<rect x="1166.85" y="775.7" width="460.9" height="217.0" fill="none" stroke="#4e4e4e" stroke-width="1.6"/>
<path d="M1187.8 992.7v5.9M1246.8 992.7v5.9M1305.9 992.7v5.9M1364.9 992.7v5.9M1423.9 992.7v5.9M1483.0 992.7v5.9M1542.0 992.7v5.9M1601.0 992.7v5.9M1166.85 822.6h-5.1M1166.85 870.0h-5.1M1166.85 917.4h-5.1M1166.85 964.7h-5.1" stroke="#4e4e4e" stroke-width="1.4" fill="none"/>
<g font-size="15.5" fill="#1c1c1c" stroke="#1c1c1c" stroke-width="0.3" text-anchor="middle">
<text transform="translate(1187.2 1016.4) scale(0.98 1.1)">0</text>
<text transform="translate(1246.2 1016.4) scale(0.98 1.1)">10</text>
<text transform="translate(1305.3 1016.4) scale(0.98 1.1)">20</text>
<text transform="translate(1364.3 1016.4) scale(0.98 1.1)">30</text>
<text transform="translate(1423.3 1016.4) scale(0.98 1.1)">40</text>
<text transform="translate(1482.4 1016.4) scale(0.98 1.1)">50</text>
<text transform="translate(1541.4 1016.4) scale(0.98 1.1)">60</text>
<text transform="translate(1600.4 1016.4) scale(0.98 1.1)">70</text>
</g>
<g font-size="15.5" fill="#1c1c1c" stroke="#1c1c1c" stroke-width="0.3" text-anchor="end">
<text transform="translate(1154.6 829.6) scale(0.98 1.1)">400</text>
<text transform="translate(1154.6 877.0) scale(0.98 1.1)">300</text>
<text transform="translate(1154.6 924.4) scale(0.98 1.1)">200</text>
<text transform="translate(1154.6 971.7) scale(0.98 1.1)">100</text>
</g>
<text x="270.6" y="249.2" font-size="32" fill="#1c1c1c" textLength="170.0" lengthAdjust="spacing" stroke="#1c1c1c" stroke-width="0.55">wind (m/s)</text>
<text x="776.6" y="249.2" font-size="32" fill="#1c1c1c" textLength="197.8" lengthAdjust="spacing" stroke="#1c1c1c" stroke-width="0.55">tp (kg/m^2)</text>
<text x="1330.6" y="249.2" font-size="32" fill="#1c1c1c" textLength="130.4" lengthAdjust="spacing" stroke="#1c1c1c" stroke-width="0.55">msl (Pa)</text>
<text x="260.9" y="1042.5" font-size="23.5" fill="#1c1c1c" textLength="191.1" lengthAdjust="spacing" stroke="#1c1c1c" stroke-width="0.4">lead time (hours)</text>
<text x="781.1" y="1042.5" font-size="23.5" fill="#1c1c1c" textLength="191.1" lengthAdjust="spacing" stroke="#1c1c1c" stroke-width="0.4">lead time (hours)</text>
<text x="1301.3" y="1042.5" font-size="23.5" fill="#1c1c1c" textLength="191.1" lengthAdjust="spacing" stroke="#1c1c1c" stroke-width="0.4">lead time (hours)</text>
<text transform="translate(80.6 400.8) rotate(-90)" font-size="23" fill="#1c1c1c" stroke="#1c1c1c" stroke-width="0.4" textLength="59.6" lengthAdjust="spacingAndGlyphs">RMSE</text>
<text transform="translate(79.2 650.7) rotate(-90)" font-size="23" fill="#1c1c1c" stroke="#1c1c1c" stroke-width="0.4" textLength="44.4" lengthAdjust="spacingAndGlyphs">ACC</text>
<text transform="translate(72.0 910.9) rotate(-90)" font-size="23" fill="#1c1c1c" stroke="#1c1c1c" stroke-width="0.4" textLength="44.6" lengthAdjust="spacingAndGlyphs">MAE</text>
</g>
<text x="14.2" y="156.0" font-size="60.5" fill="#000" textLength="438.4" lengthAdjust="spacing" stroke="#000" stroke-width="0.9">Hourly forecast:</text>
<text x="1408.2" y="95.2" font-size="38.5" fill="#000" textLength="660.8" lengthAdjust="spacing" stroke="#000" stroke-width="0.75">Training data: Sept. &amp; Oct. 2000-2020</text>
<text x="1730.3" y="187.3" font-size="38.5" fill="#000" textLength="240.7" lengthAdjust="spacing" stroke="#000" stroke-width="0.75">Training data:</text>
<text x="1731.2" y="239.7" font-size="38.5" fill="#000" textLength="371.2" lengthAdjust="spacing" stroke="#000" stroke-width="0.75">All month 1980-2020</text>
<text x="1708.0" y="428.4" font-size="38.5" fill="#000" textLength="508.6" lengthAdjust="spacing" stroke="#000" stroke-width="0.75">All data &amp; mass conservation</text>
<line x1="1715.4" y1="117.4" x2="1604.8" y2="264.7" stroke="#ea3323" stroke-width="4.2"/>
<polygon points="1597.4,274.6 1599.6,259.5 1611.2,268.2" fill="#ea3323"/>
<line x1="1714.8" y1="236.0" x2="1612.0" y2="327.4" stroke="#2f6eba" stroke-width="4.2"/>
<polygon points="1602.7,335.6 1607.9,321.3 1617.5,332.1" fill="#2f6eba"/>
<line x1="1689.2" y1="414.4" x2="1554.3" y2="365.4" stroke="#4ead5b" stroke-width="4.2"/>
<polygon points="1542.6,361.2 1557.7,359.0 1552.7,372.6" fill="#4ead5b"/>
</svg>
</body></html>
